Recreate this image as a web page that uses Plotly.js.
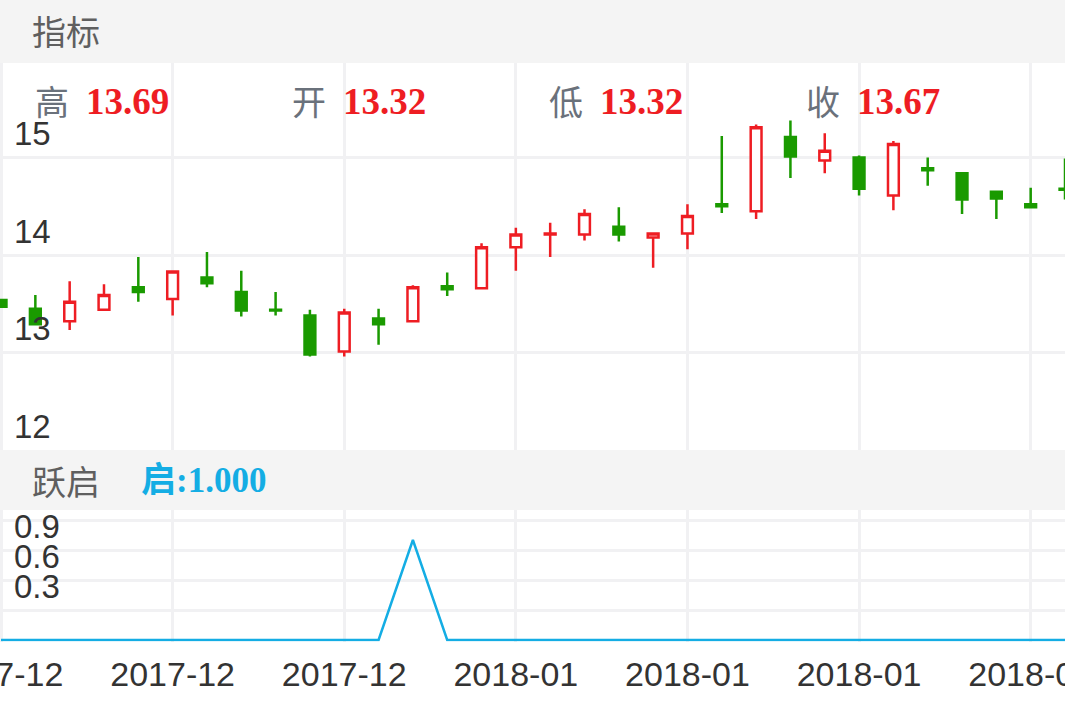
<!DOCTYPE html>
<html>
<head>
<meta charset="utf-8">
<script src="https://cdn.plot.ly/plotly-3.0.1.min.js"></script>
<style>
  html, body { margin: 0; padding: 0; background: #fff; }
  #chart { width: 1065px; height: 708px; }
</style>
</head>
<body>
<div id="chart"></div>
<script>
"use strict";

// trading days on the x axis
var dates = [
    "2017-12-11", "2017-12-12", "2017-12-13", "2017-12-14", "2017-12-15",
    "2017-12-18", "2017-12-19", "2017-12-20", "2017-12-21", "2017-12-22",
    "2017-12-25", "2017-12-26", "2017-12-27", "2017-12-28", "2017-12-29",
    "2018-01-02", "2018-01-03", "2018-01-04", "2018-01-05", "2018-01-08",
    "2018-01-09", "2018-01-10", "2018-01-11", "2018-01-12", "2018-01-15",
    "2018-01-16", "2018-01-17", "2018-01-18", "2018-01-19", "2018-01-22",
    "2018-01-23", "2018-01-24"
];

// K line values
var openVals  = [13.54, 13.45, 13.32, 13.44, 13.67, 13.55, 13.77, 13.62, 13.44, 13.38,
                 13.01, 13.35, 13.32, 13.68, 13.66, 14.08, 14.21, 14.21, 14.29, 14.18,
                 14.22, 14.52, 14.45, 15.21, 14.97, 15.00, 14.61, 14.89, 14.84, 14.65,
                 14.52, 14.68];
var highVals  = [13.54, 13.59, 13.73, 13.70, 13.98, 13.83, 14.03, 13.84, 13.62, 13.44,
                 13.45, 13.45, 13.69, 13.82, 14.12, 14.28, 14.33, 14.47, 14.49, 14.22,
                 14.52, 15.22, 15.34, 15.38, 15.25, 15.02, 15.17, 15.00, 14.84, 14.65,
                 14.69, 14.99];
var lowVals   = [13.47, 13.28, 13.23, 13.44, 13.52, 13.38, 13.67, 13.37, 13.38, 12.96,
                 12.96, 13.08, 13.32, 13.58, 13.66, 13.84, 13.98, 14.15, 14.14, 13.87,
                 14.06, 14.43, 14.37, 14.79, 14.84, 14.61, 14.46, 14.71, 14.42, 14.37,
                 14.49, 14.57];
var closeVals = [13.47, 13.29, 13.52, 13.59, 13.62, 13.83, 13.71, 13.43, 13.43, 12.98,
                 13.41, 13.29, 13.67, 13.65, 14.08, 14.21, 14.22, 14.42, 14.21, 14.22,
                 14.40, 14.50, 15.31, 15.01, 15.07, 14.68, 15.14, 14.87, 14.57, 14.58,
                 14.49, 14.67];

// 跃启 signal
var qiSignal = [0, 0, 0, 0, 0, 0, 0, 0, 0, 0,
                0, 0, 1, 0, 0, 0, 0, 0, 0, 0,
                0, 0, 0, 0, 0, 0, 0, 0, 0, 0,
                0, 0];

var priceTicks = [12, 13, 14, 15];
var qiTicks = [0.3, 0.6, 0.9, 1.2];
var headerLabels = ["高", "开", "低", "收"];

// the day the header values are shown for
var hoverIndex = 12;

var W = 1065, H = 708;
var GRID = "#f1f1f3";
var UP = "#ee1d23", DOWN = "#1a9a00", QI = "#14ade4";

function px(x) { return x / W; }
function py(y) { return 1 - y / H; }

var tickDates = [];
for (var i = 0; i < dates.length; i += 5) tickDates.push(dates[i]);
var tickText = tickDates.map(function (d) { return d.slice(0, 7); });

var headerValues = [highVals[hoverIndex], openVals[hoverIndex], lowVals[hoverIndex], closeVals[hoverIndex]];

var kline = {
    type: "candlestick",
    x: dates, open: openVals, high: highVals, low: lowVals, close: closeVals,
    xaxis: "x", yaxis: "y",
    increasing: { line: { color: UP, width: 2.5 }, fillcolor: "#ffffff" },
    decreasing: { line: { color: DOWN, width: 2.5 }, fillcolor: DOWN },
    hoverinfo: "skip"
};

var qiLine = {
    type: "scatter", mode: "lines",
    x: dates, y: qiSignal,
    xaxis: "x", yaxis: "y2",
    line: { color: QI, width: 2.5 },
    hoverinfo: "skip"
};

var annotations = [];
function addText(text, x, y, size, color, family) {
    annotations.push({
        xref: "paper", yref: "paper", x: px(x), y: py(y),
        xanchor: "left", yanchor: "middle", showarrow: false,
        text: text, font: { size: size, color: color, family: family }
    });
}

addText("指标", 30, 31, 34, "#5f5f5f", "Noto Sans CJK SC");
var labelX = [33, 290, 547, 804];
for (var k = 0; k < headerLabels.length; k++) {
    addText(headerLabels[k], labelX[k], 100, 34, "#6a717b", "Noto Sans CJK SC");
    addText("<b>" + headerValues[k].toFixed(2) + "</b>", labelX[k] + 51, 101, 37, UP, "Liberation Serif");
}
addText("跃启", 30, 480, 34, "#5f5f5f", "Noto Sans CJK SC");
addText("<b>启:" + qiSignal[hoverIndex].toFixed(3) + "</b>", 139, 480, 35, QI, "Liberation Serif, Noto Sans CJK SC");

var layout = {
    width: W, height: H,
    margin: { l: 0, r: 0, t: 0, b: 0 },
    paper_bgcolor: "#f4f4f4",
    plot_bgcolor: "#ffffff",
    showlegend: false,
    boxgap: 0.55,
    font: { family: "Liberation Sans, Arial, sans-serif", color: "#333333" },
    shapes: [
        // white strip under the lower panel, behind the date labels
        { type: "rect", xref: "paper", yref: "paper", x0: 0, x1: 1, y0: 0, y1: py(641),
          fillcolor: "#ffffff", line: { width: 0 }, layer: "below" }
    ],
    annotations: annotations,
    xaxis: {
        type: "category", anchor: "y2",
        range: [-0.03, 31.0],
        rangeslider: { visible: false },
        tickmode: "array", tickvals: tickDates, ticktext: tickText,
        showgrid: true, gridcolor: GRID, gridwidth: 3,
        zeroline: false, showline: false, ticks: "",
        tickfont: { size: 34, color: "#333333" },
        ticklabelstandoff: 9,
        ticklabeloverflow: "allow",
        fixedrange: true
    },
    yaxis: {
        domain: [py(450), py(63)],
        range: [12, 15.97],
        tickmode: "array", tickvals: priceTicks,
        showgrid: true, gridcolor: GRID, gridwidth: 3,
        zeroline: false, showline: false, ticks: "",
        ticklabelposition: "inside",
        ticklabelshift: -24, ticklabelstandoff: 11,
        ticklabeloverflow: "allow",
        tickfont: { size: 33, color: "#333333" },
        fixedrange: true
    },
    yaxis2: {
        domain: [py(641.5), py(510)],
        range: [-0.015, 1.3],
        tickmode: "array", tickvals: qiTicks,
        ticktext: qiTicks.map(function (v) { return v < 1 ? v.toFixed(1) : ""; }),
        showgrid: true, gridcolor: GRID, gridwidth: 3,
        zeroline: false, showline: false, ticks: "",
        ticklabelposition: "inside",
        ticklabelshift: -24, ticklabelstandoff: 11,
        ticklabeloverflow: "allow",
        tickfont: { size: 33, color: "#333333" },
        fixedrange: true
    }
};

Plotly.newPlot("chart", [kline, qiLine], layout, { displayModeBar: false, staticPlot: true });
</script>
</body>
</html>
